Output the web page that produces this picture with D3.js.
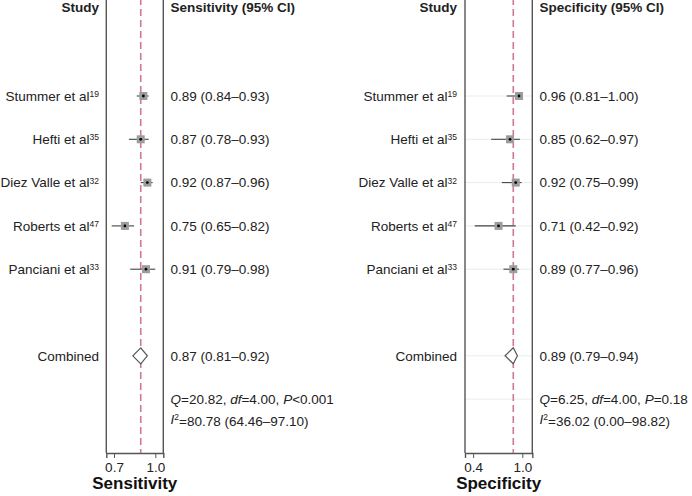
<!DOCTYPE html>
<html>
<head>
<meta charset="utf-8">
<script src="https://cdn.jsdelivr.net/npm/d3@7"></script>
<style>
  body { margin: 0; background: #fff; }
  svg { font-family: Arial, "Liberation Sans", sans-serif; }
</style>
</head>
<body>
<svg width="692" height="496"></svg>
<script>
// study rows
const studies = ['Stummer et al', 'Hefti et al', 'Diez Valle et al', 'Roberts et al', 'Panciani et al'];
const refs = ['19', '35', '32', '47', '33'];

const sensEst = [0.89, 0.87, 0.92, 0.75, 0.91];
const sensLo = [0.84, 0.78, 0.87, 0.65, 0.79];
const sensHi = [0.93, 0.93, 0.96, 0.82, 0.98];
const sensPooled = [0.87, 0.81, 0.92];
const sensQ = ['20.82', '4.00', '<0.001'];
const sensI2 = ['80.78', '64.46', '97.10'];
const sensTicks = [0.7, 1.0];

const specEst = [0.96, 0.85, 0.92, 0.71, 0.89];
const specLo = [0.81, 0.62, 0.75, 0.42, 0.77];
const specHi = [1.00, 0.97, 0.99, 0.92, 0.96];
const specPooled = [0.89, 0.79, 0.94];
const specQ = ['6.25', '4.00', '=0.18'];
const specI2 = ['36.02', '0.00', '98.82'];
const specTicks = [0.4, 1.0];

const fmt = d3.format('.2f');
const svg = d3.select('svg');

// row index -> y
const y = d3.scaleLinear().domain([0, 9]).range([9.4, 399.1]);
const boxBottom = 453;

const panels = [
  {
    title: 'Sensitivity', est: sensEst, lo: sensLo, hi: sensHi, pooled: sensPooled,
    q: sensQ, i2: sensI2, ticks: sensTicks,
    labelX: 99, boxL: 106.3, boxR: 163.3, valueX: 170.5,
    x: d3.scaleLinear().domain([0.609, 1.041]).range([106.3, 163.3]),
    xAxis: d3.scaleLinear().domain([0.644, 1.058]).range([106.3, 163.3]),
    grid: false
  },
  {
    title: 'Specificity', est: specEst, lo: specLo, hi: specHi, pooled: specPooled,
    q: specQ, i2: specI2, ticks: specTicks,
    labelX: 457, boxL: 465, boxR: 532.3, valueX: 539.5,
    x: d3.scaleLinear().domain([0.301, 1.122]).range([465, 532.3]),
    xAxis: d3.scaleLinear().domain([0.301, 1.122]).range([465, 532.3]),
    grid: true
  }
];

panels.forEach(p => {
  const g = svg.append('g');
  const rows = studies.map((s, i) => ({
    name: s, ref: refs[i], est: p.est[i], lo: p.lo[i], hi: p.hi[i], row: i + 2
  }));

  // faint row guides
  if (p.grid) {
    g.selectAll('.grid')
      .data([2, 3, 4, 5, 6, 8, 9])
      .enter().append('line')
      .attr('x1', p.boxL).attr('x2', p.boxR)
      .attr('y1', d => y(d)).attr('y2', d => y(d))
      .style('stroke', '#e4eeee').style('stroke-width', 1);
  }

  // frame sides
  g.selectAll('.side')
    .data([p.boxL, p.boxR])
    .enter().append('line')
    .attr('x1', d => d).attr('x2', d => d)
    .attr('y1', -2).attr('y2', boxBottom)
    .style('stroke', '#555').style('stroke-width', 1.4);

  // axis
  const ax = g.append('g')
    .attr('transform', 'translate(0,' + boxBottom + ')')
    .call(d3.axisBottom(p.xAxis).tickValues(p.ticks).tickFormat(d3.format('.1f')).tickSizeOuter(0).tickSize(5));
  ax.select('.domain').style('stroke', '#555').style('stroke-width', 1.4);
  ax.selectAll('.tick line').style('stroke', '#555');
  ax.selectAll('.tick text')
    .attr('y', 9)
    .style('font-size', '13.5px').style('font-family', 'Arial, "Liberation Sans", sans-serif')
    .style('fill', '#222');

  // pooled reference line
  g.append('line')
    .attr('x1', p.x(p.pooled[0])).attr('x2', p.x(p.pooled[0]))
    .attr('y1', -2).attr('y2', boxBottom)
    .style('stroke', '#d07896').style('stroke-width', 1.6)
    .style('stroke-dasharray', '7,4');

  // CIs
  g.selectAll('.ci')
    .data(rows)
    .enter().append('line')
    .attr('x1', d => p.x(d.lo)).attr('x2', d => p.x(d.hi))
    .attr('y1', d => y(d.row)).attr('y2', d => y(d.row))
    .style('stroke', '#444').style('stroke-width', 1.1);

  g.selectAll('.sq')
    .data(rows)
    .enter().append('rect')
    .attr('x', d => p.x(d.est) - 4).attr('y', d => y(d.row) - 4)
    .attr('width', 8).attr('height', 8)
    .style('fill', '#9c9c9c');

  g.selectAll('.dot')
    .data(rows)
    .enter().append('circle')
    .attr('cx', d => p.x(d.est)).attr('cy', d => y(d.row))
    .attr('r', 1.4)
    .style('fill', '#000');

  // pooled diamond
  const cy = y(8);
  g.append('path')
    .attr('d', 'M' + p.x(p.pooled[1]) + ',' + cy +
      'L' + p.x(p.pooled[0]) + ',' + (cy - 8) +
      'L' + p.x(p.pooled[2]) + ',' + cy +
      'L' + p.x(p.pooled[0]) + ',' + (cy + 8) + 'Z')
    .style('fill', '#fff').style('stroke', '#555').style('stroke-width', 1.2);

  // text
  const txt = g.append('g').style('font-size', '13.5px').style('fill', '#222');

  txt.append('text')
    .attr('x', p.labelX).attr('y', 12)
    .attr('text-anchor', 'end')
    .style('font-weight', 'bold')
    .text('Study');

  txt.append('text')
    .attr('x', p.valueX).attr('y', 12)
    .style('font-weight', 'bold')
    .text(p.title + ' (95% CI)');

  const lab = txt.selectAll('.lab')
    .data(rows)
    .enter().append('text')
    .attr('x', p.labelX).attr('y', d => y(d.row))
    .attr('dy', '0.35em')
    .attr('text-anchor', 'end');
  lab.append('tspan').text(d => d.name);
  lab.append('tspan')
    .attr('dy', '-0.45em')
    .style('font-size', '8.5px')
    .text(d => d.ref);

  txt.selectAll('.val')
    .data(rows)
    .enter().append('text')
    .attr('x', p.valueX).attr('y', d => y(d.row))
    .attr('dy', '0.35em')
    .text(d => fmt(d.est) + ' (' + fmt(d.lo) + '\u2013' + fmt(d.hi) + ')');

  txt.append('text')
    .attr('x', p.labelX).attr('y', y(8)).attr('dy', '0.35em')
    .attr('text-anchor', 'end')
    .text('Combined');

  txt.append('text')
    .attr('x', p.valueX).attr('y', y(8)).attr('dy', '0.35em')
    .text(fmt(p.pooled[0]) + ' (' + fmt(p.pooled[1]) + '\u2013' + fmt(p.pooled[2]) + ')');

  const q = txt.append('text')
    .attr('x', p.valueX).attr('y', y(9)).attr('dy', '0.35em');
  q.append('tspan').style('font-style', 'italic').text('Q');
  q.append('tspan').text('=' + p.q[0] + ', ');
  q.append('tspan').style('font-style', 'italic').text('df');
  q.append('tspan').text('=' + p.q[1] + ', ');
  q.append('tspan').style('font-style', 'italic').text('P');
  q.append('tspan').text(p.q[2]);

  const i2 = txt.append('text')
    .attr('x', p.valueX).attr('y', y(9) + 20).attr('dy', '0.35em');
  i2.append('tspan').style('font-style', 'italic').text('I');
  i2.append('tspan').attr('dy', '-0.45em').style('font-size', '8.5px').text('2');
  i2.append('tspan').attr('dy', '0.45em').text('=' + p.i2[0] + ' (' + p.i2[1] + '\u2013' + p.i2[2] + ')');

  // axis title
  g.append('text')
    .attr('x', (p.boxL + p.boxR) / 2).attr('y', 489)
    .attr('text-anchor', 'middle')
    .style('font-size', '17px').style('font-weight', 'bold').style('fill', '#111')
    .text(p.title);
});
</script>
</body>
</html>
